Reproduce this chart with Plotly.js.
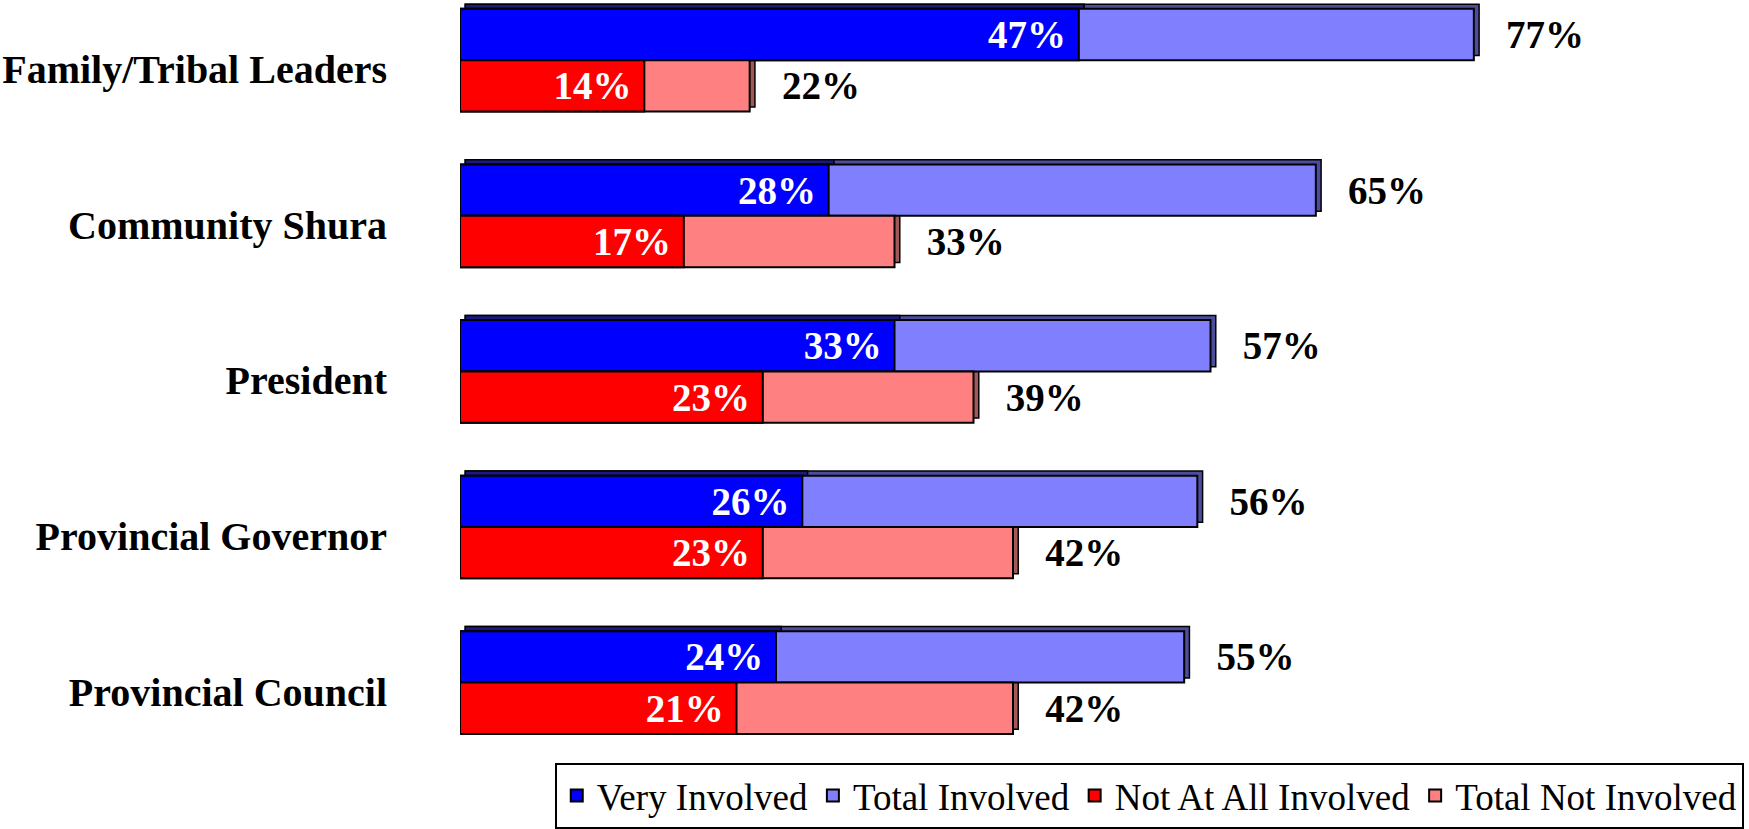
<!DOCTYPE html>
<html>
<head>
<meta charset="utf-8">
<script src="https://cdn.plot.ly/plotly-3.0.1.min.js"></script>
<style>
html,body{margin:0;padding:0;background:#fff;}
#chart{width:1749px;height:829px;}
</style>
</head>
<body>
<div id="chart"></div>
<script>
const categories = ["Family/Tribal Leaders", "Community Shura", "President", "Provincial Governor", "Provincial Council"];
const veryInvolved = [47, 28, 33, 26, 24];
const totalInvolved = [77, 65, 57, 56, 55];
const notAtAllInvolved = [14, 17, 23, 23, 21];
const totalNotInvolved = [22, 33, 39, 42, 42];

const FONT = "Liberation Serif, DejaVu Serif, serif";
const BW = 0.33;          // bar thickness (category units)
const DX = 0.4;           // 3D depth along x (value units)
const DY = 0.03;          // 3D depth along y (category units)
const LINE = {color: "#000", width: 2};

function shadow(vals, off, color) {
  return {
    type: "bar", orientation: "h", y: categories, x: vals, base: DX,
    offset: off - DY, width: BW,
    marker: {color: color, line: {color: "#000", width: 1.5}},
    showlegend: false, hoverinfo: "skip"
  };
}

const nb = "\u00A0\u00A0\u00A0";
const traces = [
  shadow(totalInvolved, -BW, "#4d4d9e"),
  shadow(veryInvolved, -BW, "#1a1a80"),
  shadow(totalNotInvolved, 0, "#a05858"),
  shadow(notAtAllInvolved, 0, "#800000"),
  {
    type: "bar", orientation: "h", name: "Total Involved",
    y: categories, x: totalInvolved, offset: -BW, width: BW,
    marker: {color: "#8080ff", line: LINE},
    text: totalInvolved.map(v => nb + v + "%"), textposition: "outside",
    outsidetextfont: {family: FONT, size: 39, color: "#000", weight: "bold"},
    constraintext: "none", cliponaxis: false, legendrank: 2
  },
  {
    type: "bar", orientation: "h", name: "Very Involved",
    y: categories, x: veryInvolved, offset: -BW, width: BW,
    marker: {color: "#0000ff", line: LINE},
    text: veryInvolved.map(v => v + "%\u00A0"), textposition: "inside", insidetextanchor: "end",
    insidetextfont: {family: FONT, size: 39, color: "#fff", weight: "bold"},
    constraintext: "none", legendrank: 1
  },
  {
    type: "bar", orientation: "h", name: "Total Not Involved",
    y: categories, x: totalNotInvolved, offset: 0, width: BW,
    marker: {color: "#ff8080", line: LINE},
    text: totalNotInvolved.map(v => nb + v + "%"), textposition: "outside",
    outsidetextfont: {family: FONT, size: 39, color: "#000", weight: "bold"},
    constraintext: "none", cliponaxis: false, legendrank: 4
  },
  {
    type: "bar", orientation: "h", name: "Not At All Involved",
    y: categories, x: notAtAllInvolved, offset: 0, width: BW,
    marker: {color: "#ff0000", line: LINE},
    text: notAtAllInvolved.map(v => v + "%\u00A0"), textposition: "inside", insidetextanchor: "end",
    insidetextfont: {family: FONT, size: 39, color: "#fff", weight: "bold"},
    constraintext: "none", legendrank: 3
  }
];

const layout = {
  width: 1749, height: 829,
  margin: {l: 460, r: 104, t: 0, b: 84},
  paper_bgcolor: "#fff", plot_bgcolor: "#fff",
  barmode: "overlay",
  font: {family: FONT, color: "#000"},
  xaxis: {range: [0, 90], visible: false, fixedrange: true},
  yaxis: {
    type: "category", range: [4.401, -0.387], autorange: false,
    showgrid: false, zeroline: false, showline: false, ticks: "",
    ticklabelstandoff: 72, ticklabelshift: -9, automargin: false,
    tickfont: {family: FONT, size: 40, color: "#000", weight: "bold"}
  },
  showlegend: true,
  legend: {
    orientation: "h", traceorder: "normal",
    xref: "container", yref: "container",
    x: 0.997, xanchor: "right", y: 0, yanchor: "bottom",
    bordercolor: "#000", borderwidth: 2, bgcolor: "#fff",
    font: {family: FONT, size: 37, color: "#000", weight: "normal"},
    itemwidth: 30
  }
};

Plotly.newPlot("chart", traces, layout, {displayModeBar: false, staticPlot: true});
</script>
</body>
</html>
